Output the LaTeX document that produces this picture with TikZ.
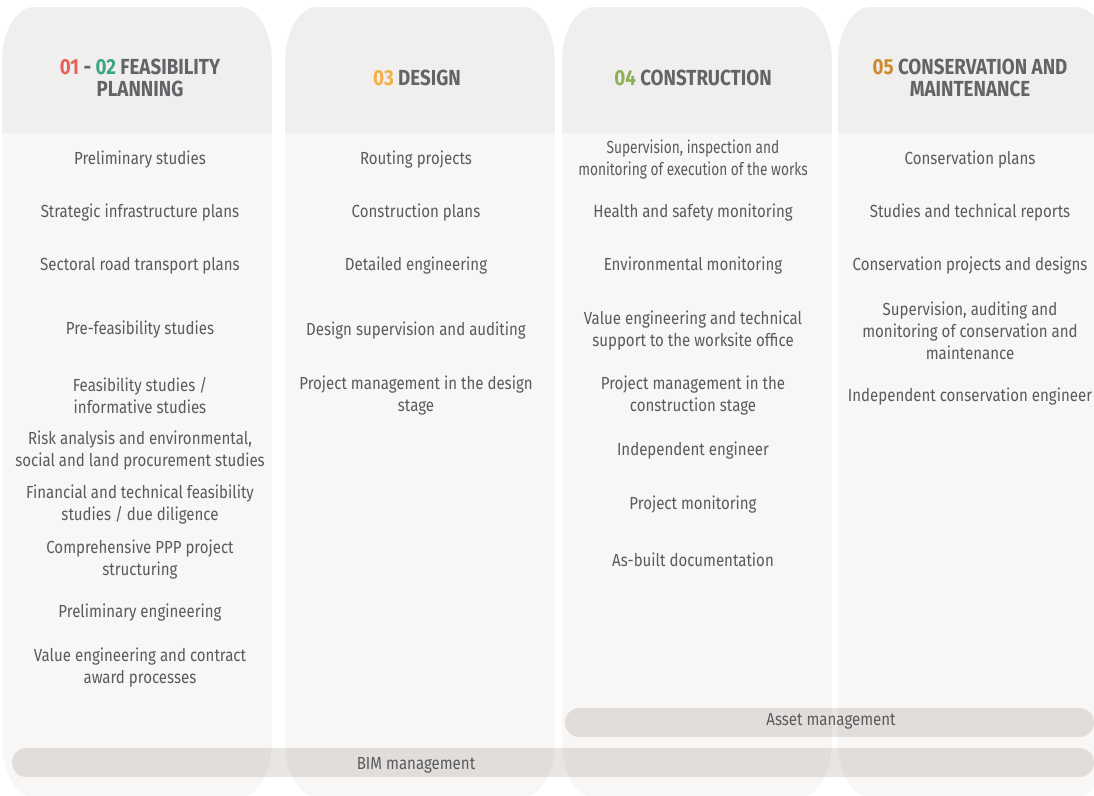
\documentclass[tikz,border=0pt]{standalone}
\usepackage{fontspec}
\setmainfont{Fira Sans}[FakeStretch=0.86]
\definecolor{colbody}{HTML}{F8F7F6}
\definecolor{colhead}{HTML}{F0EFEE}
\definecolor{barc}{HTML}{E8E5E2}
\definecolor{txt}{HTML}{5A5B5D}
\definecolor{htxt}{HTML}{636467}
\definecolor{cA}{HTML}{E8605A}
\definecolor{cB}{HTML}{3BA585}
\definecolor{cC}{HTML}{F6AF43}
\definecolor{cD}{HTML}{8DB157}
\definecolor{cE}{HTML}{CF8A2B}
\newcommand\colshape[2]{(#1,62) -- (#1,742) .. controls (#1,772.4) and ({#1+14.3},797) .. ({#1+32},797) -- ({#2-32},797) .. controls ({#2-14.3},797) and (#2,772.4) .. (#2,742) -- (#2,62) .. controls (#2,31.6) and ({#2-14.3},7) .. ({#2-32},7) -- ({#1+32},7) .. controls ({#1+14.3},7) and (#1,31.6) .. (#1,62) -- cycle}
\newcommand\drawcolumn[2]{%
  \begin{scope}
    \clip \colshape{#1}{#2};
    \fill[colhead, blend mode=multiply] (#1,0) rectangle (#2,133);
    \fill[colbody, blend mode=multiply] (#1,133) rectangle (#2,800);
  \end{scope}}
\tikzset{
  item/.style={align=center, text=txt, inner sep=0pt, font=\fontsize{17.5}{22}\selectfont},
  head/.style={align=center, text=htxt, inner sep=0pt, font=\fontsize{21.8}{22}\selectfont\bfseries},
  bar/.style={fill=barc, rounded corners=14.5pt},
}
\begin{document}
\begin{tikzpicture}[x=1pt,y=-1pt]
\useasboundingbox (0,0) rectangle (1094,795);
\clip (0,0) rectangle (1094,795);
% bars (drawn first, columns multiply over them)
\fill[bar] (565,708) rectangle (1094,737);
\fill[bar] (12,748) rectangle (1094,777);
% columns
\drawcolumn{2}{272}
\drawcolumn{285}{555}
\drawcolumn{562}{832}
\drawcolumn{838}{1108}
% bar labels
\node[item] (asset) at (831,721) {Asset management};
\node[item] (bim) at (416,765) {BIM management};
% headers
\node[head] (h1) at (140,78) {\textcolor{cA}{01} - \textcolor{cB}{02} FEASIBILITY\\PLANNING};
\node[head] (h2) at (417,78) {\textcolor{cC}{03} DESIGN};
\node[head] (h3) at (693,78) {\textcolor{cD}{04} CONSTRUCTION};
\node[head] (h4) at (970,78) {\textcolor{cE}{05} CONSERVATION AND\\MAINTENANCE};
% column 1
\node[item] (a1) at (140,160) {Preliminary studies};
\node[item] (a2) at (140,213) {Strategic infrastructure plans};
\node[item] (a3) at (140,266) {Sectoral road transport plans};
\node[item] (a4) at (140,330) {Pre-feasibility studies};
\node[item] (a5) at (140,396) {Feasibility studies /\\informative studies};
\node[item] (a6) at (140,451) {Risk analysis and environmental,\\social and land procurement studies};
\node[item] (a7) at (140,505) {Financial and technical feasibility\\studies / due diligence};
\node[item] (a8) at (140,560) {Comprehensive PPP project\\structuring};
\node[item] (a9) at (140,613) {Preliminary engineering};
\node[item] (a10) at (140,668) {Value engineering and contract\\award processes};
% column 2
\node[item] (b1) at (416,160) {Routing projects};
\node[item] (b2) at (416,213) {Construction plans};
\node[item] (b3) at (416,266) {Detailed engineering};
\node[item] (b4) at (416,331) {Design supervision and auditing};
\node[item] (b5) at (416,396) {Project management in the design\\stage};
% column 3
\node[item] (c1) at (693,160) {\scalebox{0.91}[1]{\begin{tabular}{@{}c@{}}Supervision, inspection and\\monitoring of execution of the works\end{tabular}}};
\node[item] (c2) at (693,213) {Health and safety monitoring};
\node[item] (c3) at (693,266) {Environmental monitoring};
\node[item] (c4) at (693,331) {Value engineering and technical\\support to the worksite office};
\node[item] (c5) at (693,396) {Project management in the\\construction stage};
\node[item] (c6) at (693,451) {Independent engineer};
\node[item] (c7) at (693,505) {Project monitoring};
\node[item] (c8) at (693,560) {As-built documentation};
% column 4
\node[item] (d1) at (970,160) {Conservation plans};
\node[item] (d2) at (970,213) {Studies and technical reports};
\node[item] (d3) at (970,266) {Conservation projects and designs};
\node[item] (d4) at (970,331) {Supervision, auditing and\\monitoring of conservation and\\maintenance};
\node[item] (d5) at (970,397) {Independent conservation engineer};
\end{tikzpicture}
\end{document}
